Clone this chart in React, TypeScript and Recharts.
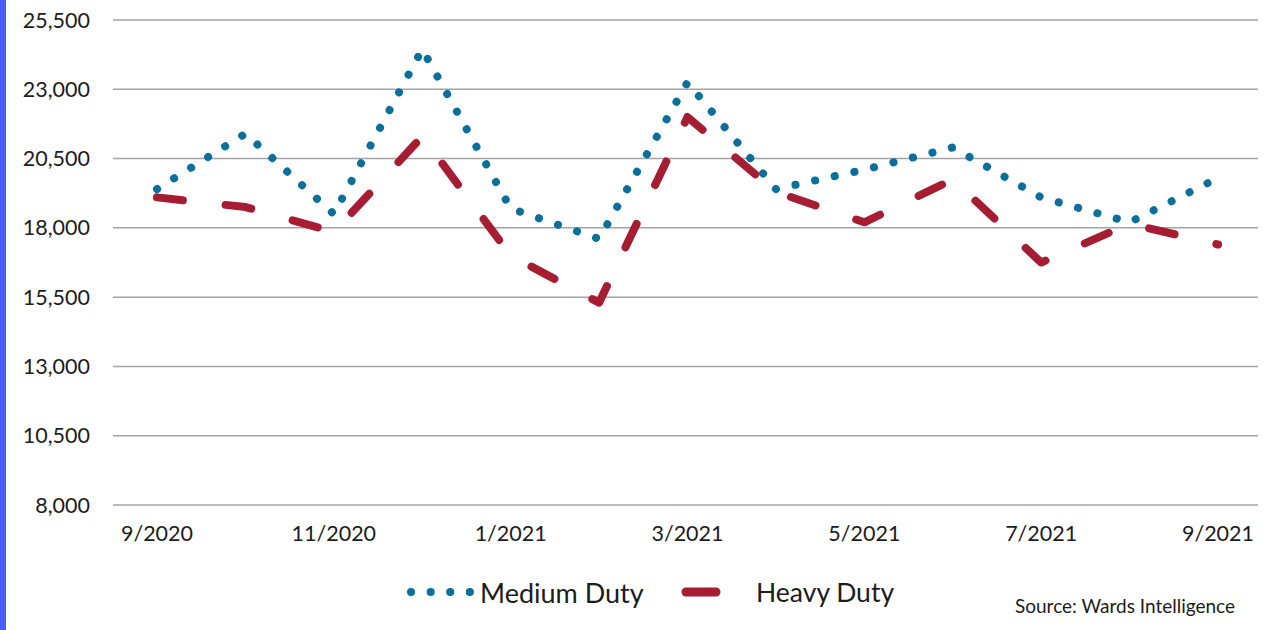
import React from 'react';
import { LineChart, Line, XAxis, YAxis, CartesianGrid } from 'recharts';

const months = [
  '9/2020', '10/2020', '11/2020', '12/2020', '1/2021', '2/2021', '3/2021',
  '4/2021', '5/2021', '6/2021', '7/2021', '8/2021', '9/2021',
];
const mediumDuty = [19400, 21400, 18500, 24450, 18700, 17600, 23250, 19400, 20100, 20900, 19100, 18200, 19800];
const heavyDuty = [19100, 18750, 17850, 21300, 17000, 15300, 22000, 19300, 18200, 19750, 16750, 18150, 17400];
const yTicks = [8000, 10500, 13000, 15500, 18000, 20500, 23000, 25500];

const MEDIUM_COLOR = '#0b6f9b';
const HEAVY_COLOR = '#a61d33';
const TEXT_COLOR = '#1c1c1c';
const FONT = 'Lato, "Open Sans", sans-serif';

const data = months.map((m, i) => ({ month: m, medium: mediumDuty[i], heavy: heavyDuty[i] }));

export default function App() {
  return (
    <div
      style={{
        position: 'fixed',
        left: 0,
        top: 0,
        width: 1268,
        height: 630,
        background: '#ffffff',
        fontFamily: FONT,
        overflow: 'hidden',
      }}
    >
      {/* blue edge on the left */}
      <div style={{ position: 'absolute', left: 0, top: 0, width: 6, height: 630, background: '#4b5cf7' }} />

      <LineChart width={1268} height={630} data={data} margin={{ top: 20, right: 10, left: 0, bottom: 85 }}>
        <CartesianGrid vertical={false} stroke="#a3a3a3" strokeWidth={1.5} />
        <XAxis
          dataKey="month"
          interval={1}
          axisLine={false}
          tickLine={false}
          tickSize={0}
          tickMargin={21}
          height={40}
          padding={{ left: 44, right: 40 }}
          tick={{ fill: TEXT_COLOR, fontSize: 21.5, fontFamily: FONT }}
        />
        <YAxis
          width={113}
          domain={[8000, 25500]}
          ticks={yTicks}
          axisLine={false}
          tickLine={false}
          tickSize={0}
          tickMargin={23}
          tickFormatter={(v: number) => v.toLocaleString('en-US')}
          tick={{ fill: TEXT_COLOR, fontSize: 21.5, fontFamily: FONT }}
        />
        <Line
          type="linear"
          dataKey="medium"
          stroke={MEDIUM_COLOR}
          strokeWidth={8}
          strokeDasharray="0.1 20"
          strokeLinecap="round"
          dot={false}
          activeDot={false}
          isAnimationActive={false}
        />
        <Line
          type="linear"
          dataKey="heavy"
          stroke={HEAVY_COLOR}
          strokeWidth={8}
          strokeDasharray="26 43"
          strokeLinecap="round"
          strokeLinejoin="round"
          dot={false}
          activeDot={false}
          isAnimationActive={false}
        />
      </LineChart>

      {/* legend */}
      <div style={{ position: 'absolute', left: 400, top: 574, height: 36, display: 'flex', alignItems: 'center', color: TEXT_COLOR }}>
        <svg width={78} height={20}>
          <line x1={11} y1={10} x2={70} y2={10} stroke={MEDIUM_COLOR} strokeWidth={8} strokeDasharray="0.1 19.5" strokeLinecap="round" />
        </svg>
        <span style={{ fontSize: 27, marginLeft: 2 }}>Medium Duty</span>
      </div>
      <div style={{ position: 'absolute', left: 676, top: 574, height: 36, display: 'flex', alignItems: 'center', color: TEXT_COLOR }}>
        <svg width={80} height={20}>
          <line x1={10} y1={10} x2={40} y2={10} stroke={HEAVY_COLOR} strokeWidth={9} strokeLinecap="round" />
        </svg>
        <span style={{ fontSize: 26.5 }}>Heavy Duty</span>
      </div>
      <div style={{ position: 'absolute', left: 1015, top: 594, fontSize: 19, color: TEXT_COLOR }}>
        Source: Wards Intelligence
      </div>
    </div>
  );
}
